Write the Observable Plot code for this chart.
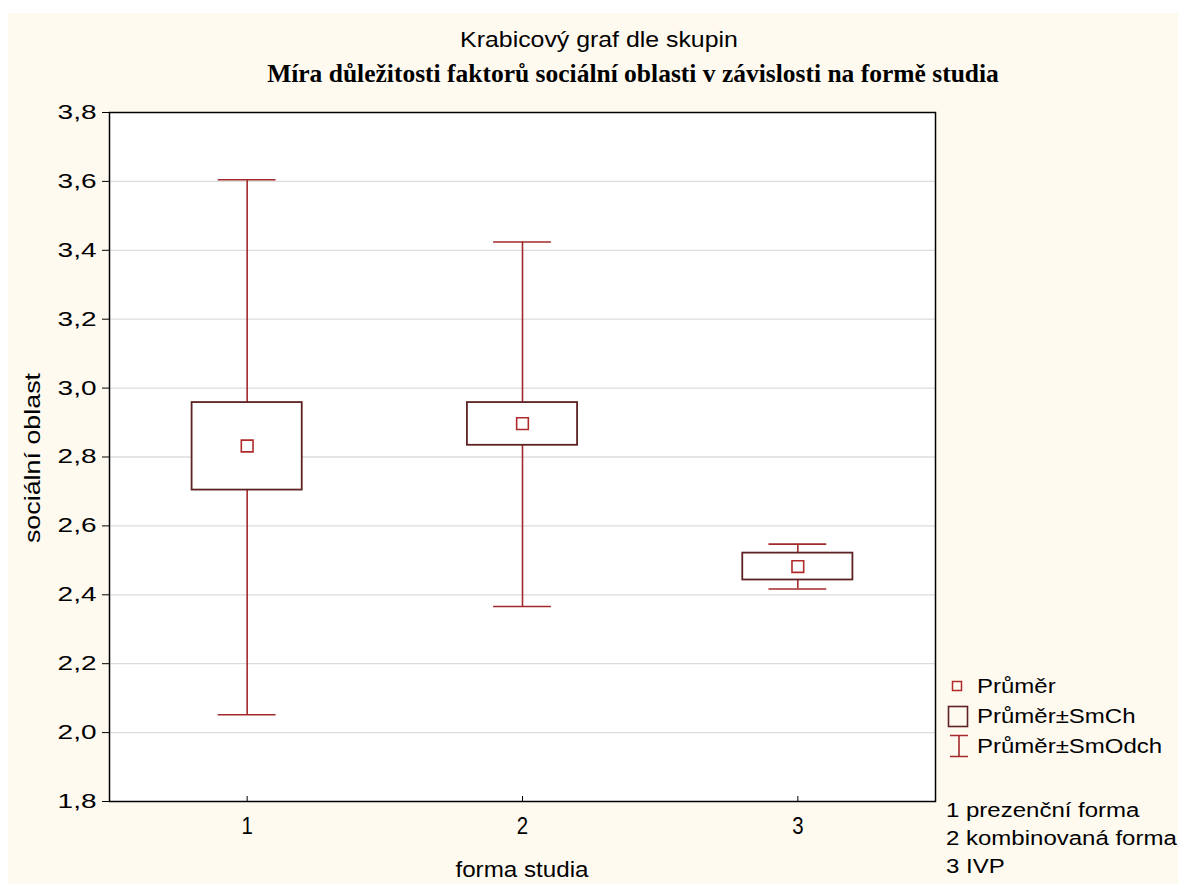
<!DOCTYPE html>
<html>
<head>
<meta charset="utf-8">
<script src="https://cdn.jsdelivr.net/npm/d3@7"></script>
<script src="https://cdn.jsdelivr.net/npm/@observablehq/plot@0.6"></script>
<style>
  html, body { margin: 0; padding: 0; background: #ffffff; }
  #wrap { position: relative; width: 1178px; height: 884px; overflow: hidden; background: #ffffff; }
  #cream { position: absolute; left: 8px; top: 13px; right: 0; bottom: 0; background: #fffaf0; }
  #chart { position: absolute; left: 0; top: 0; }
  .t { position: absolute; white-space: nowrap; color: #000; line-height: 24px; }
  .sans { font-family: "Liberation Sans", Arial, sans-serif; }
  #sub { font-size: 22px; left: 0; width: 1198px; text-align: center; top: 28px; transform: scaleX(1.13); }
  #title { font-family: "Liberation Serif", "Times New Roman", serif; font-weight: bold; font-size: 25.5px; left: 0; width: 1266px; text-align: center; top: 62px; }
  #xlab { font-size: 22px; left: 0; width: 1044px; text-align: center; top: 858px; transform: scaleX(1.1); }
  #ylab { font-size: 22px; left: 33px; top: 458px; transform: translate(-50%, -50%) rotate(-90deg) scaleX(1.22); }
  .leg { font-size: 20px; transform-origin: left center; transform: scaleX(1.2); }
</style>
</head>
<body>
<div id="wrap">
  <div id="cream"></div>
  <div id="chart"></div>
  <div class="t sans" id="sub"></div>
  <div class="t" id="title"></div>
  <div class="t sans" id="xlab"></div>
  <div class="t sans" id="ylab"></div>
  <div id="legend"></div>
</div>
<script>
// ---- data ----
const groups = [1, 2, 3];
const groupNames = ["1 prezenční forma", "2 kombinovaná forma", "3 IVP"];
const means  = [2.832, 2.897, 2.482];
const seLow  = [2.704, 2.834, 2.443];
const seHigh = [2.958, 2.958, 2.521];
const sdLow  = [2.052, 2.366, 2.417];
const sdHigh = [3.605, 3.424, 2.547];
const yTicks = [1.8, 2.0, 2.2, 2.4, 2.6, 2.8, 3.0, 3.2, 3.4, 3.6, 3.8];
const xTicks = [1, 2, 3];
const legendLabels = ["Průměr", "Průměr±SmCh", "Průměr±SmOdch"];
const subtitle = "Krabicový graf dle skupin";
const title = "Míra důležitosti faktorů sociální oblasti v závislosti na formě studia";
const xLabel = "forma studia";
const yLabel = "sociální oblast";

const rows = groups.map((g, i) => ({g, mean: means[i], seLow: seLow[i], seHigh: seHigh[i], sdLow: sdLow[i], sdHigh: sdHigh[i]}));

const boxHalf = 0.2, capHalf = 0.105;
const boxColor = "#5e2222", whiskColor = "#a22a2a", meanColor = "#b02a2a";
const W = 1178, H = 884;
const mT = 112, mB = 83, mL = 109, mR = 243;
const innerH = H - mT - mB;

const fmt = d => d.toFixed(1).replace(".", ",");

const chart = Plot.plot({
  width: W, height: H,
  marginTop: mT, marginBottom: mB, marginLeft: mL, marginRight: mR,
  style: {background: "transparent", fontFamily: "Liberation Sans, Arial, sans-serif", fontSize: "20px", color: "#000", overflow: "visible"},
  x: {type: "linear", domain: [0.5, 3.5], axis: null},
  y: {type: "linear", domain: [1.8, 3.8]},
  marks: [
    Plot.frame({fill: "white", stroke: "none"}),
    Plot.ruleY(yTicks.slice(1, -1), {stroke: "#dcdcdc", strokeWidth: 1.3}),
    // whiskers (mean ± SD)
    Plot.ruleX(rows, {x: "g", y1: "sdLow", y2: "sdHigh", stroke: whiskColor, strokeWidth: 1.6}),
    Plot.ruleY(rows, {y: "sdHigh", x1: d => d.g - capHalf, x2: d => d.g + capHalf, stroke: whiskColor, strokeWidth: 1.6}),
    Plot.ruleY(rows, {y: "sdLow", x1: d => d.g - capHalf, x2: d => d.g + capHalf, stroke: whiskColor, strokeWidth: 1.6}),
    // boxes (mean ± SE)
    Plot.rect(rows, {x1: d => d.g - boxHalf, x2: d => d.g + boxHalf, y1: "seLow", y2: "seHigh", fill: "white", stroke: boxColor, strokeWidth: 1.8}),
    // means
    Plot.dot(rows, {x: "g", y: "mean", symbol: "square", r: 6.6, fill: "white", stroke: meanColor, strokeWidth: 1.6}),
    // axes
    Plot.axisY(yTicks, {anchor: "left", tickSize: 7, tickPadding: 6, tickFormat: fmt, label: null}),
    Plot.text(xTicks, {x: d => d, text: d => String(d), frameAnchor: "bottom", lineAnchor: "top", dy: 15, fontSize: 24, fill: "#000"}),
    Plot.tickX(xTicks, {x: d => d, stroke: "#000", insetTop: innerH - 5}),
    Plot.frame({stroke: "#000", strokeWidth: 1.5})
  ]
});
// adjust tick glyph widths about their anchor to mimic the original font
chart.querySelectorAll('g[aria-label="y-axis tick label"] text').forEach(t => {
  t.style.fontSize = "20px";
  t.setAttribute("transform", (t.getAttribute("transform") || "") + " scale(1.4,1)");
});
chart.querySelectorAll('g[aria-label="text"] text').forEach(t => {
  t.setAttribute("transform", (t.getAttribute("transform") || "") + " scale(0.85,1)");
});
document.getElementById("chart").appendChild(chart);
document.getElementById("sub").textContent = subtitle;
document.getElementById("title").textContent = title;
document.getElementById("xlab").textContent = xLabel;
document.getElementById("ylab").textContent = yLabel;

// legend
const leg = document.getElementById("legend");
const icons = [
  `<svg width="24" height="24" style="position:absolute;left:944px;top:674px"><rect x="8.5" y="7.5" width="9" height="9" fill="none" stroke="${meanColor}" stroke-width="1.5"/></svg>`,
  `<svg width="26" height="26" style="position:absolute;left:944px;top:703px"><rect x="4.5" y="3.5" width="19" height="20" fill="none" stroke="${boxColor}" stroke-width="1.6"/></svg>`,
  `<svg width="26" height="28" style="position:absolute;left:944px;top:732px"><path d="M6,3.5H24M15,3.5V24.5M6,24.5H24" fill="none" stroke="${whiskColor}" stroke-width="1.6"/></svg>`
];
leg.innerHTML = icons.join("");
const legTops = [674, 704, 734];
legendLabels.forEach((s, i) => {
  const d = document.createElement("div");
  d.className = "t sans leg"; d.textContent = s;
  d.style.left = "977px"; d.style.top = legTops[i] + "px";
  leg.appendChild(d);
});
const nameTops = [798, 826, 854];
groupNames.forEach((s, i) => {
  const d = document.createElement("div");
  d.className = "t sans leg"; d.textContent = s;
  d.style.left = "946px"; d.style.top = nameTops[i] + "px";
  leg.appendChild(d);
});
</script>
</body>
</html>
